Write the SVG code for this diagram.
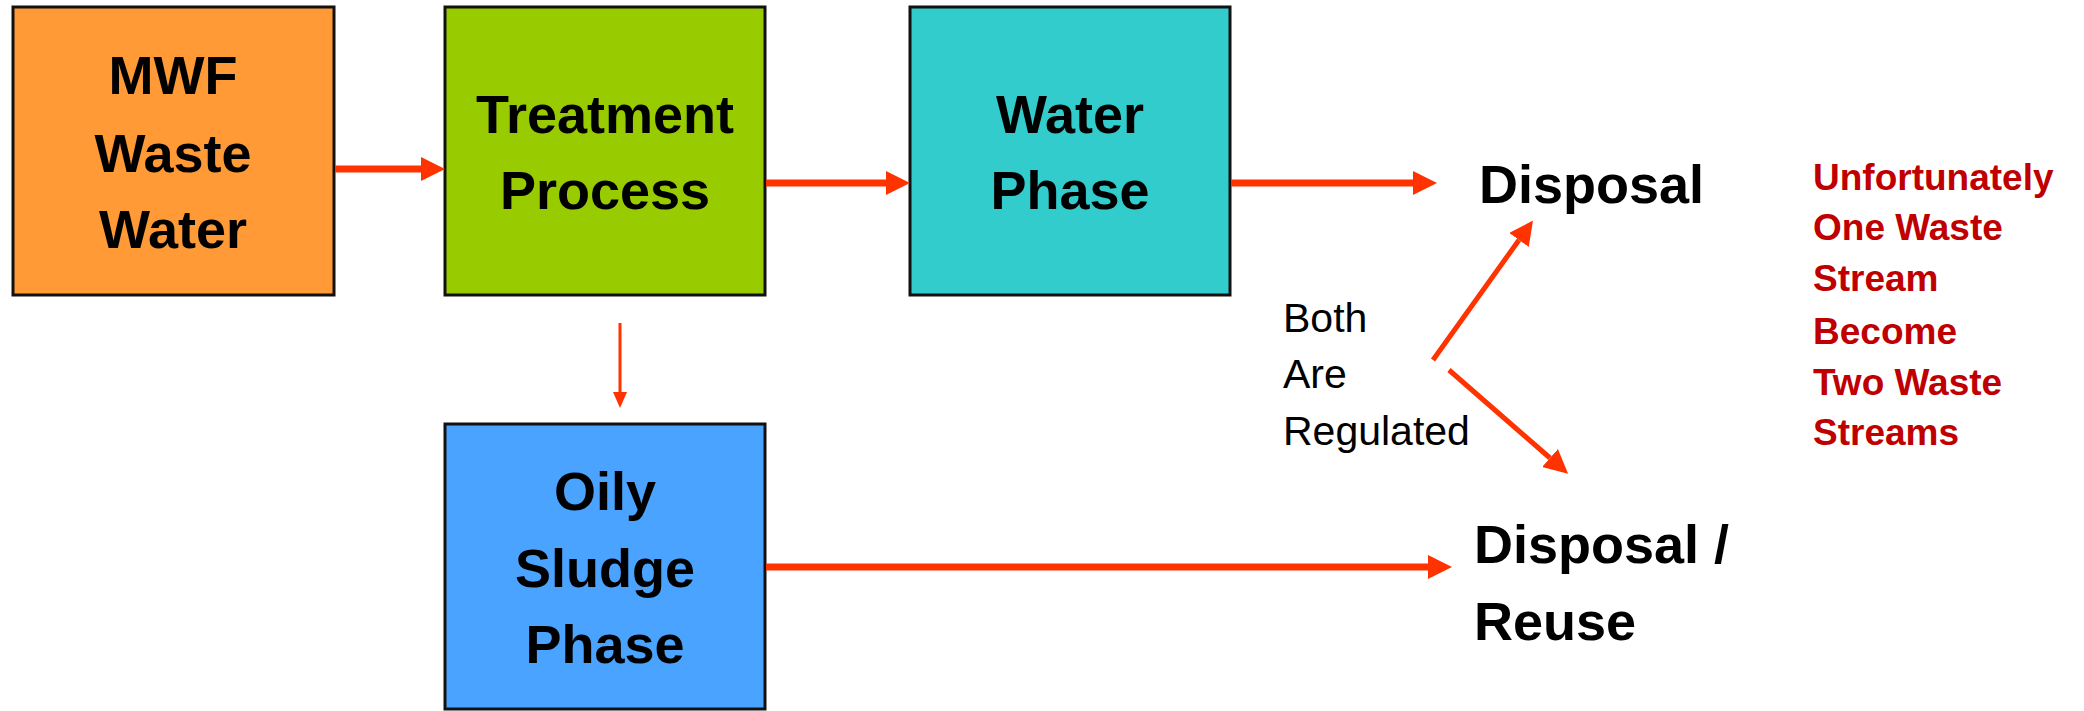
<svg xmlns="http://www.w3.org/2000/svg" width="2084" height="711" viewBox="0 0 2084 711">
<defs>
<style>
.box{stroke:#111;stroke-width:3}
.lbl{font-family:"Liberation Sans",Arial,sans-serif;font-weight:bold;font-size:54px;fill:#000;text-anchor:middle}
.out{font-family:"Liberation Sans",Arial,sans-serif;font-weight:bold;font-size:54px;fill:#000}
.note{font-family:"Liberation Sans",Arial,sans-serif;font-size:41px;fill:#000}
.red{font-family:"Liberation Sans",Arial,sans-serif;font-weight:bold;font-size:37px;fill:#C00000}
.con{stroke:#FF3300;fill:none}
</style>
<marker id="ah" viewBox="0 0 24 24" refX="0" refY="12" markerWidth="24" markerHeight="24" markerUnits="userSpaceOnUse" orient="auto"><path d="M0,0 L24,12 L0,24 z" fill="#FF3300"/></marker>
<marker id="ahs" viewBox="0 0 16 14" refX="0" refY="7" markerWidth="16" markerHeight="14" markerUnits="userSpaceOnUse" orient="auto"><path d="M0,0 L16,7 L0,14 z" fill="#FF3300"/></marker>
</defs>
<rect width="2084" height="711" fill="#fff"/>
<g id="mwf"><rect class="box" x="13" y="7" width="321" height="288" fill="#FF9A36"/><text class="lbl" x="173" y="94">MWF</text><text class="lbl" x="173" y="172">Waste</text><text class="lbl" x="173" y="248">Water</text></g>
<g id="treatment"><rect class="box" x="445" y="7" width="320" height="288" fill="#99CC00"/><text class="lbl" x="605" y="133">Treatment</text><text class="lbl" x="605" y="209">Process</text></g>
<g id="water"><rect class="box" x="910" y="7" width="320" height="288" fill="#33CCCC"/><text class="lbl" x="1070" y="133">Water</text><text class="lbl" x="1070" y="209">Phase</text></g>
<g id="sludge"><rect class="box" x="445" y="424" width="320" height="285" fill="#4AA3FF"/><text class="lbl" x="605" y="510">Oily</text><text class="lbl" x="605" y="587">Sludge</text><text class="lbl" x="605" y="663">Phase</text></g>
<g id="disposal"><text class="out" x="1479" y="203">Disposal</text></g>
<g id="reuse"><text class="out" x="1474" y="563">Disposal /</text><text class="out" x="1474" y="640">Reuse</text></g>
<g id="regulated"><text class="note" x="1283" y="332">Both</text><text class="note" x="1283" y="388">Are</text><text class="note" x="1283" y="445">Regulated</text></g>
<g id="comment"><text class="red" x="1813" y="190">Unfortunately</text><text class="red" x="1813" y="240">One Waste</text><text class="red" x="1813" y="291">Stream</text><text class="red" x="1813" y="344">Become</text><text class="red" x="1813" y="395">Two Waste</text><text class="red" x="1813" y="445">Streams</text></g>
<g id="connectors">
<line class="con" x1="335" y1="169" x2="421" y2="169" stroke-width="7" marker-end="url(#ah)"/>
<line class="con" x1="766" y1="183" x2="886" y2="183" stroke-width="7" marker-end="url(#ah)"/>
<line class="con" x1="1231" y1="183" x2="1413" y2="183" stroke-width="7" marker-end="url(#ah)"/>
<line class="con" x1="766" y1="567" x2="1428" y2="567" stroke-width="7" marker-end="url(#ah)"/>
<line class="con" x1="620" y1="323" x2="620" y2="392" stroke-width="3" marker-end="url(#ahs)"/>
<line class="con" x1="1433" y1="360" x2="1519" y2="240" stroke-width="5" marker-end="url(#ah)"/>
<line class="con" x1="1449" y1="370" x2="1550" y2="458" stroke-width="5" marker-end="url(#ah)"/>
</g>
</svg>
